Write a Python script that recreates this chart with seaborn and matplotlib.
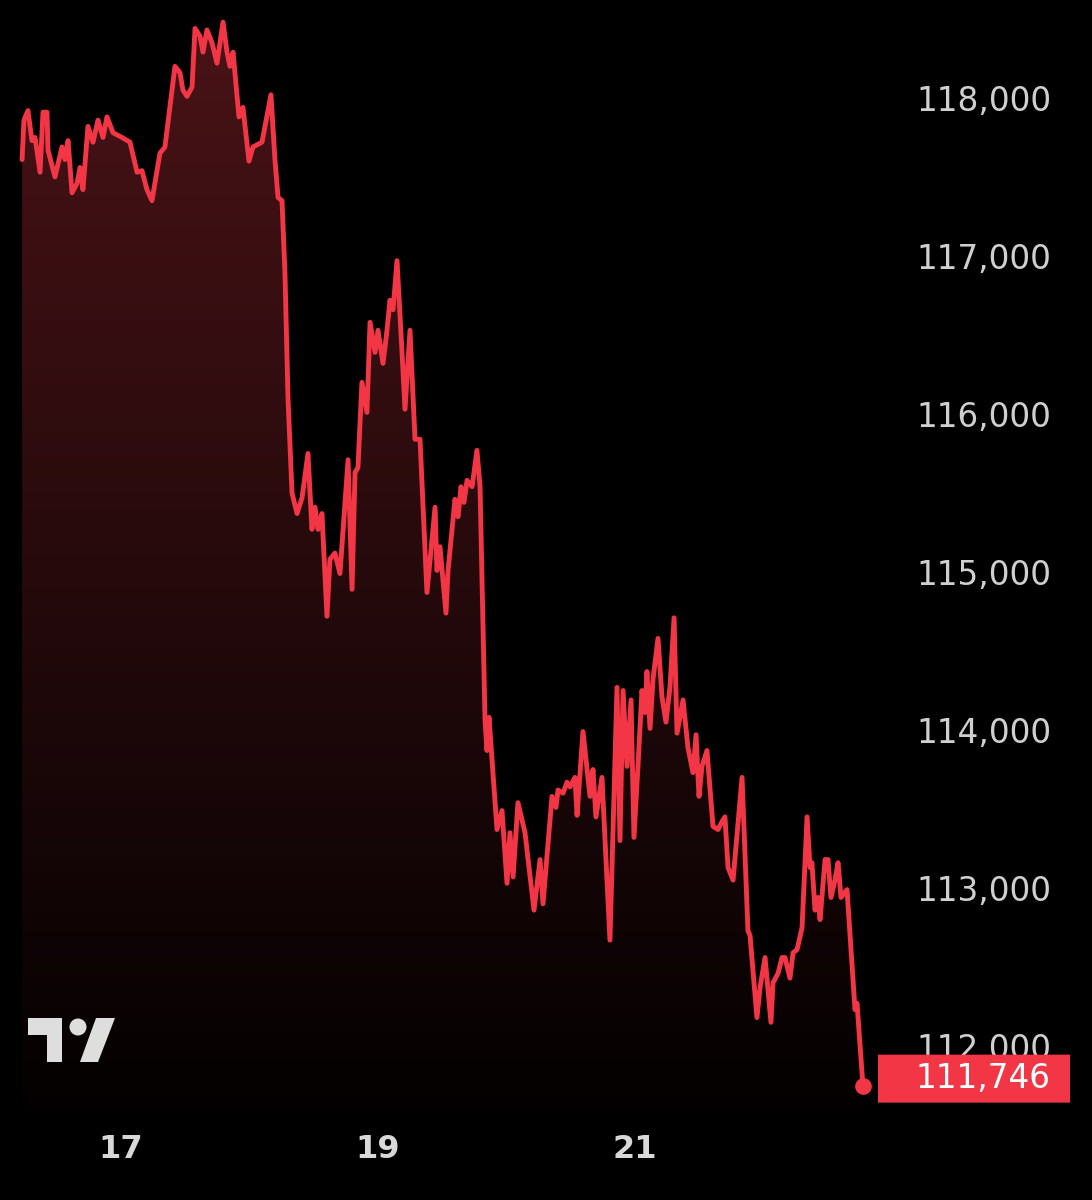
import numpy as np
import pandas as pd
import matplotlib
matplotlib.use("Agg")
import matplotlib.pyplot as plt
import matplotlib.transforms as mtransforms
from matplotlib.patches import FancyBboxPatch, Polygon, Circle
import seaborn as sns

# ---- data (day of month, price) ----
days = [16.230, 16.245, 16.276, 16.307, 16.331, 16.370, 16.393, 16.424, 16.432, 16.486,
        16.541, 16.564, 16.588, 16.619, 16.658, 16.681, 16.704, 16.743, 16.782, 16.821,
        16.860, 16.891, 16.938, 17.008, 17.070, 17.125, 17.163, 17.202, 17.241, 17.303,
        17.342, 17.420, 17.459, 17.482, 17.514, 17.553, 17.576, 17.615, 17.638, 17.669,
        17.708, 17.747, 17.794, 17.825, 17.848, 17.872, 17.918, 17.949, 17.996, 18.027,
        18.097, 18.167, 18.198, 18.222, 18.253, 18.276, 18.300, 18.331, 18.370, 18.409,
        18.455, 18.486, 18.510, 18.533, 18.564, 18.603, 18.626, 18.665, 18.704, 18.767,
        18.798, 18.821, 18.844, 18.875, 18.914, 18.938, 18.977, 19.000, 19.039, 19.070,
        19.093, 19.117, 19.148, 19.187, 19.210, 19.249, 19.288, 19.327, 19.381, 19.444,
        19.459, 19.482, 19.529, 19.545, 19.599, 19.623, 19.646, 19.669, 19.693, 19.732,
        19.770, 19.794, 19.833, 19.848, 19.864, 19.926, 19.965, 20.004, 20.027, 20.051,
        20.089, 20.144, 20.214, 20.261, 20.284, 20.354, 20.385, 20.401, 20.440, 20.471,
        20.494, 20.533, 20.549, 20.595, 20.650, 20.673, 20.696, 20.743, 20.805, 20.860,
        20.883, 20.907, 20.938, 20.969, 20.992, 21.023, 21.054, 21.078, 21.093, 21.117,
        21.140, 21.179, 21.210, 21.241, 21.272, 21.304, 21.327, 21.374, 21.412, 21.451,
        21.475, 21.498, 21.521, 21.560, 21.607, 21.646, 21.677, 21.700, 21.724, 21.763,
        21.833, 21.879, 21.895, 21.949, 21.973, 22.012, 22.058, 22.074, 22.113, 22.144,
        22.167, 22.206, 22.230, 22.261, 22.300, 22.339, 22.362, 22.377, 22.401, 22.424,
        22.440, 22.479, 22.502, 22.525, 22.556, 22.580, 22.603, 22.650, 22.712, 22.728,
        22.774]

prices = [117610, 117860, 117920, 117730, 117750, 117530, 117910, 117910, 117670, 117500,
          117690, 117610, 117730, 117400, 117460, 117560, 117420, 117820, 117720, 117860,
          117750, 117880, 117780, 117750, 117720, 117530, 117540, 117420, 117350, 117650,
          117690, 118200, 118160, 118050, 118010, 118070, 118440, 118390, 118290, 118430,
          118350, 118220, 118480, 118290, 118200, 118290, 117880, 117940, 117600, 117690,
          117720, 118020, 117610, 117370, 117350, 116890, 116090, 115500, 115370, 115470,
          115750, 115270, 115410, 115270, 115370, 114720, 115080, 115120, 114990, 115710,
          114890, 115630, 115660, 116200, 116010, 116580, 116390, 116530, 116320, 116530,
          116720, 116660, 116970, 116390, 116030, 116530, 115840, 115840, 114870, 115410,
          115010, 115160, 114740, 115010, 115460, 115350, 115540, 115440, 115580, 115540,
          115770, 115540, 114060, 113870, 114080, 113370, 113490, 113030, 113350, 113070,
          113540, 113350, 112860, 113180, 112900, 113580, 113510, 113620, 113600, 113670,
          113640, 113700, 113460, 113990, 113580, 113750, 113450, 113700, 112670, 114270,
          113300, 114250, 113770, 114190, 113320, 113770, 114250, 114110, 114370, 114010,
          114320, 114580, 114210, 114050, 114270, 114710, 113980, 114190, 113890, 113730,
          113970, 113580, 113770, 113870, 113390, 113370, 113420, 113450, 113130, 113050,
          113700, 112730, 112700, 112180, 112370, 112560, 112150, 112400, 112460, 112560,
          112560, 112430, 112590, 112610, 112750, 113450, 113130, 113160, 112860, 112940,
          112800, 113180, 113180, 112940, 113050, 113160, 112940, 112990, 112230, 112270,
          111746]

x_ticks = [17, 19, 21]
x_tick_labels = ["17", "19", "21"]
y_ticks = [112000, 113000, 114000, 115000, 116000, 117000, 118000]
y_tick_labels = ["112,000", "113,000", "114,000", "115,000", "116,000", "117,000", "118,000"]
last_label = "111,746"

# ---- style ----
RED = "#f23645"
BG = "#000000"
sns.set_theme(style="dark", rc={"axes.facecolor": BG, "figure.facecolor": BG,
                                "axes.edgecolor": BG, "grid.color": BG})
plt.rcParams["font.family"] = ["DejaVu Sans"]

W, H, DPI = 1092, 1200, 100
fig = plt.figure(figsize=(W / DPI, H / DPI), dpi=DPI)
ax_h_px = 1110
ax = fig.add_axes([0, 1 - ax_h_px / H, 1, ax_h_px / H])

XMIN, XMAX = 16.0584, 24.5564
YMAX, YMIN = 118620, 111595
ax.set_xlim(XMIN, XMAX)
ax.set_ylim(YMIN, YMAX)

df = pd.DataFrame({"day": days, "price": prices})

# gradient fill under line
fill = ax.fill_between(df["day"], df["price"], YMIN, color="none", lw=0)
top_c = np.array([0.29, 0.075, 0.09])
bot_c = np.array([0.015, 0.003, 0.004])
t = np.linspace(0, 1, 256)[:, None]
grad = (top_c * (1 - t) + bot_c * t)[:, None, :]
grad_top = max(prices) + 100
im = ax.imshow(grad, extent=[XMIN, XMAX, YMIN, grad_top], aspect="auto",
               origin="upper", zorder=1, interpolation="bilinear")
im.set_clip_path(fill.get_paths()[0], transform=ax.transData)

sns.lineplot(data=df, x="day", y="price", ax=ax, color=RED, lw=3.5,
             estimator=None, sort=False, zorder=3)
ax.plot([days[-1]], [prices[-1]], "o", color=RED, ms=11, zorder=4)

# axes styling
ax.set_xlabel("")
ax.set_ylabel("")
ax.grid(False)
for s in ax.spines.values():
    s.set_visible(False)
ax.set_yticks(y_ticks)
ax.set_yticklabels(y_tick_labels)
ax.yaxis.set_tick_params(labelleft=False, labelright=True, left=False, right=False,
                         pad=-35.2, labelsize=23.5, labelcolor="#cfcfcf")
for tk in ax.yaxis.get_major_ticks():
    tk.label2.set_horizontalalignment("right")
ax.set_xticks(x_ticks)
ax.set_xticklabels(x_tick_labels)
ax.xaxis.set_tick_params(bottom=False, pad=22.5, labelsize=23, labelcolor="#d8d8d8")
for tk in ax.xaxis.get_major_ticks():
    tk.label1.set_fontweight("bold")
    tk.label1.set_verticalalignment("center")

# last price tag (drawn slightly above the last point, as in the app)
px_per_price = ax_h_px / (YMAX - YMIN)
half_h = 24 / px_per_price
tag_y = prices[-1] + 7.5 / px_per_price
trans = mtransforms.blended_transform_factory(ax.transAxes, ax.transData)
tag = FancyBboxPatch((878 / W, tag_y - half_h), (1070 - 878) / W, 2 * half_h,
                     boxstyle="round,pad=0,rounding_size=0.004", transform=trans,
                     fc=RED, ec="none", zorder=5, clip_on=False, mutation_aspect=1)
ax.add_patch(tag)
ax.text(1050 / W, tag_y, last_label, transform=trans, ha="right", va="center",
        color="white", fontsize=23.5, zorder=6)

# TradingView logo (overlay in pixel coordinates)
ov = fig.add_axes([0, 0, 1, 1])
ov.set_xlim(0, W)
ov.set_ylim(H, 0)
ov.axis("off")
ov.patch.set_alpha(0)
LOGO = "#dedede"
ov.add_patch(Polygon([[28, 1018], [62, 1018], [62, 1062], [47, 1062], [47, 1035], [28, 1035]],
                     closed=True, fc=LOGO, ec="none"))
ov.add_patch(Circle((78, 1027), 8.5, fc=LOGO, ec="none"))
ov.add_patch(Polygon([[96, 1018], [115, 1018], [98, 1062], [80, 1062]],
                     closed=True, fc=LOGO, ec="none"))

fig.savefig("out.png", dpi=DPI, facecolor=BG)
